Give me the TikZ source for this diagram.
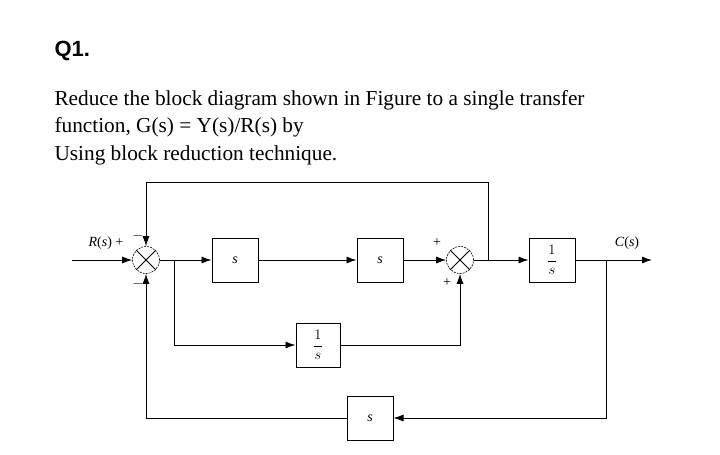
\documentclass[tikz,border=0pt]{standalone}
\usepackage{fontspec}
\setmainfont{Liberation Serif}
\newfontfamily\hsans{Liberation Sans}
\usetikzlibrary{arrows.meta}
\begin{document}
\begin{tikzpicture}[x=1pt,y=-1pt,
  blk/.style={draw,line width=1pt,minimum width=46pt,minimum height=44pt,inner sep=0pt,font=\fontsize{14}{15}\selectfont\itshape},
  sum/.style={draw,circle,minimum size=27pt,inner sep=0pt,line width=0.6pt,dash pattern=on 2pt off 1pt},
  ln/.style={line width=0.9pt},
  ar/.style={ln,-{Latex[length=10pt,width=7pt]}},
  lab/.style={font=\fontsize{14}{15}\selectfont}]
\useasboundingbox (0,0) rectangle (720,455);
\node[anchor=west,font=\hsans\bfseries\fontsize{22}{26}\selectfont] (q) at (51,51) {Q1.};
\node[anchor=west,font=\fontsize{21.3}{24}\selectfont] (t1) at (51,100) {Reduce the block diagram shown in Figure to a single transfer};
\node[anchor=west,font=\fontsize{21.3}{24}\selectfont] (t2) at (51,127) {function, G(s) = Y(s)/R(s) by};
\node[anchor=west,font=\fontsize{21.3}{24}\selectfont] (t3) at (51,155) {Using block reduction technique.};
% nodes
\node[sum] (s1) at (146,260) {};
\draw[ln] (s1.45)--(s1.225) (s1.135)--(s1.315);
\node[blk] (b1) at (235,260) {s};
\node[blk] (b2) at (380,260) {s};
\node[sum] (s2) at (460,260) {};
\draw[ln] (s2.45)--(s2.225) (s2.135)--(s2.315);
\node[blk] (b3) at (552,260) {$\displaystyle\frac{1}{s}$};
\node[blk,minimum width=44pt] (b4) at (318,345) {$\displaystyle\frac{1}{s}$};
\node[blk] (b5) at (370,418) {s};
\coordinate (in) at (72,260);
\coordinate (out) at (652,260);
\coordinate (j1) at (174,260);
\coordinate (j2) at (488,260);
\coordinate (j3) at (606,260);
% connectors
\draw[ar] (in)--(s1);
\draw[ar] (s1)--(b1);
\draw[ar] (b1)--(b2);
\draw[ar] (b2)--(s2);
\draw[ar] (s2)--(b3);
\draw[ar] (b3)--(out);
\draw[ar] (j2)--(488,182)-|(s1.north);
\draw[ar] (j1)|-(b4);
\draw[ar] (b4)-|(s2.south);
\draw[ar] (j3)|-(b5);
\draw[ar] (b5)-|(s1.south);
% labels
\node[lab] at (106,243) {\textit{R}(\textit{s})\ +};
\node[lab] at (138,236) {$-$};
\node[lab] at (138,284) {$-$};
\node[lab] at (437,243) {+};
\node[lab] at (447,283) {+};
\node[lab] at (627,243) {\textit{C}(\textit{s})};
\end{tikzpicture}
\end{document}
